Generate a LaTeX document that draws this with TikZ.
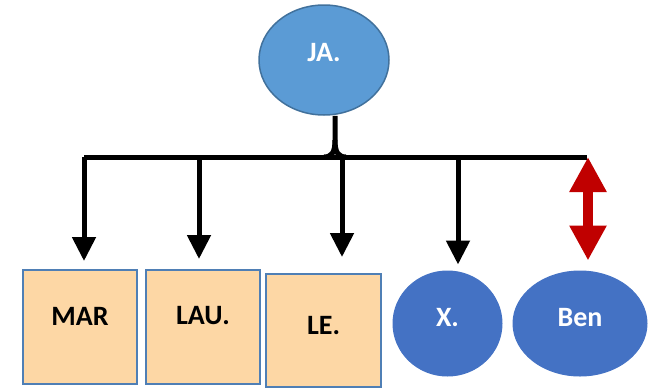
\documentclass[tikz,border=0pt]{standalone}
\usepackage{fontspec}
\setmainfont{Carlito}
\usetikzlibrary{arrows.meta,shapes.geometric}
\definecolor{jafill}{HTML}{5B9BD5}
\definecolor{jadraw}{HTML}{41719C}
\definecolor{boxfill}{HTML}{FDD7A5}
\definecolor{boxdraw}{HTML}{4F7FB5}
\definecolor{kidfill}{HTML}{4472C4}
\definecolor{redarr}{HTML}{C00000}
\tikzset{
  lbl/.style={font=\fontsize{28}{32}\selectfont\bfseries},
  topnode/.style={ellipse, fill=jafill, draw=jadraw, line width=1.5pt, inner sep=0pt, text=white, lbl},
  sqbox/.style={rectangle, fill=boxfill, draw=boxdraw, line width=2pt, inner sep=0pt, text=black, lbl},
  kidnode/.style={ellipse, fill=kidfill, draw=kidfill, line width=1pt, inner sep=0pt, text=white, lbl},
  barline/.style={line width=5pt, black},
  downarr/.style={line width=5pt, black, -{Triangle[width=23pt,length=24pt]}},
  dblarr/.style={line width=10pt, redarr, {Triangle[width=35pt,length=35pt]}-{Triangle[width=35pt,length=35pt]}},
}
\begin{document}
\begin{tikzpicture}[x=1pt,y=-1pt]
\useasboundingbox (0,0) rectangle (653,389);
% nodes
\node[topnode, minimum width=130pt, minimum height=110pt] (JA) at (324,60) {\raisebox{16pt}{JA.}};
\node[sqbox, minimum width=114pt, minimum height=114pt] (MAR) at (80,327) {\raisebox{22pt}{MAR}};
\node[sqbox, minimum width=114pt, minimum height=114pt] (LAU) at (203,327) {\raisebox{24pt}{LAU.}};
\node[sqbox, minimum width=115pt, minimum height=113pt] (LE) at (323.5,330.5) {\raisebox{11pt}{LE.}};
\node[kidnode, minimum width=109pt, minimum height=105pt] (X) at (447.5,323.5) {\raisebox{13pt}{X.}};
\node[kidnode, minimum width=134pt, minimum height=105pt] (Ben) at (580,323.5) {\raisebox{13pt}{Ben}};
% bar coordinates
\coordinate (b1) at (84,157);
\coordinate (b2) at (199,157);
\coordinate (b3) at (342,157);
\coordinate (b4) at (458,157);
\coordinate (b5) at (587,157);
\coordinate (jb) at (335,140);
% bar and brace
\draw[barline] (b1) -- (b5);
\draw[barline] (JA.south -| jb) -- (jb) .. controls (335,152) and (332,157) .. (324,157);
\draw[barline] (jb) .. controls (335,152) and (338,157) .. (346,157);
% arrows
\draw[downarr, shorten >=8pt] (b1) -- (b1 |- MAR.north);
\draw[downarr, shorten >=10pt] (b2) -- (b2 |- LAU.north);
\draw[downarr, shorten >=16pt] (b3) -- (b3 |- LE.north);
\draw[downarr, shorten >=6pt] (b4) -- (b4 |- X.north);
\draw[dblarr, shorten >=10pt, shorten <=0pt] (588,157) -- (588,157 |- Ben.north);
\end{tikzpicture}
\end{document}
